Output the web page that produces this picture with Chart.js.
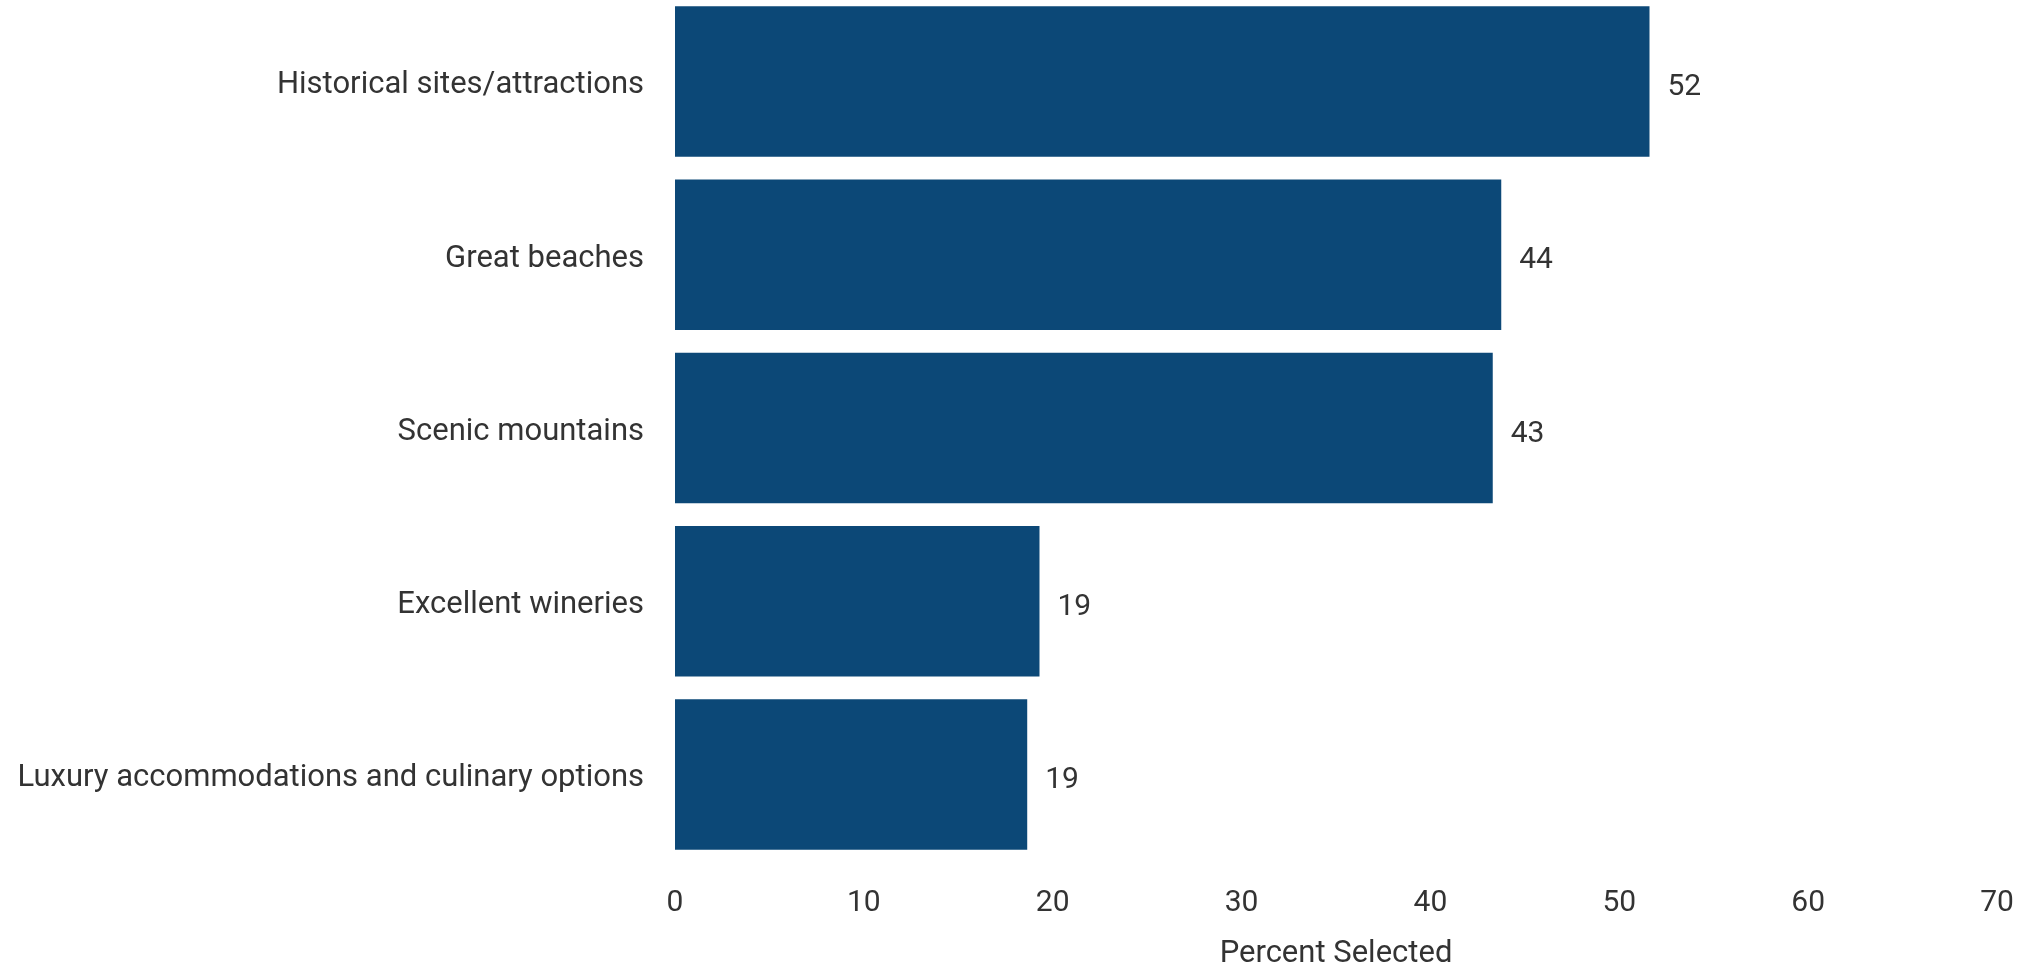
<!DOCTYPE html>
<html>
<head>
<meta charset="utf-8">
<script src="https://cdn.jsdelivr.net/npm/chart.js@4.4.1/dist/chart.umd.min.js"></script>
<style>
  html, body { margin: 0; padding: 0; background: #fff; overflow: hidden; }
  #wrap { position: absolute; left: 0; top: -5px; width: 2028px; height: 978px; }
</style>
</head>
<body>
<div id="wrap"><canvas id="attractionsChart"></canvas></div>
<script>
// Survey answers, percent of respondents
const categories = [
  "Historical sites/attractions",
  "Great beaches",
  "Scenic mountains",
  "Excellent wineries",
  "Luxury accommodations and culinary options",
];
const percentSelected = [51.6, 43.75, 43.3, 19.3, 18.65];
const xTicks = [0, 10, 20, 30, 40, 50, 60, 70];

const barColor = "#0c4877";
const textColor = "#333333";
const fontFamily = "Roboto, 'Open Sans', sans-serif";

// value labels just past the end of each bar
const valueLabels = {
  id: "valueLabels",
  afterDatasetsDraw(chart) {
    const ctx = chart.ctx;
    const meta = chart.getDatasetMeta(0);
    ctx.save();
    ctx.font = "30px " + fontFamily;
    ctx.fillStyle = textColor;
    ctx.textAlign = "left";
    ctx.textBaseline = "middle";
    meta.data.forEach((bar, i) => {
      ctx.fillText(String(Math.round(percentSelected[i])), bar.x + 18, bar.y + 6);
    });
    ctx.restore();
  },
};

const ctx = document.getElementById("attractionsChart").getContext("2d");

const chart = new Chart(ctx, {
  type: "bar",
  data: {
    labels: categories,
    datasets: [
      {
        label: "Percent Selected",
        data: percentSelected,
        backgroundColor: barColor,
        borderWidth: 0,
        categoryPercentage: 1.0,
        barPercentage: 0.869,
      },
    ],
  },
  options: {
    indexAxis: "y",
    responsive: true,
    maintainAspectRatio: false,
    animation: false,
    layout: {
      padding: { left: 0, right: 31, top: 0, bottom: 0 },
    },
    plugins: {
      legend: { display: false },
      tooltip: { enabled: false },
    },
    scales: {
      x: {
        min: 0,
        max: 70,
        afterBuildTicks: (scale) => {
          scale.ticks = xTicks.map((v) => ({ value: v }));
        },
        afterFit: (scale) => {
          scale.height = 112;
          scale.paddingLeft = 0;
          scale.paddingRight = 0;
        },
        grid: { display: false, drawTicks: false },
        border: { display: false },
        ticks: {
          color: textColor,
          padding: 24,
          maxRotation: 0,
          font: { family: fontFamily, size: 30 },
        },
        title: {
          display: true,
          text: "Percent Selected",
          color: textColor,
          padding: { top: 16, bottom: 0 },
          font: { family: fontFamily, size: 31 },
        },
      },
      y: {
        grid: { display: false, drawTicks: false },
        border: { display: false },
        afterFit: (scale) => {
          scale.width = 675;
          scale.paddingTop = 0;
          scale.paddingBottom = 0;
        },
        ticks: {
          color: textColor,
          padding: 31,
          labelOffset: 4,
          font: { family: fontFamily, size: 31 },
        },
      },
    },
  },
  plugins: [valueLabels],
});
</script>
</body>
</html>
